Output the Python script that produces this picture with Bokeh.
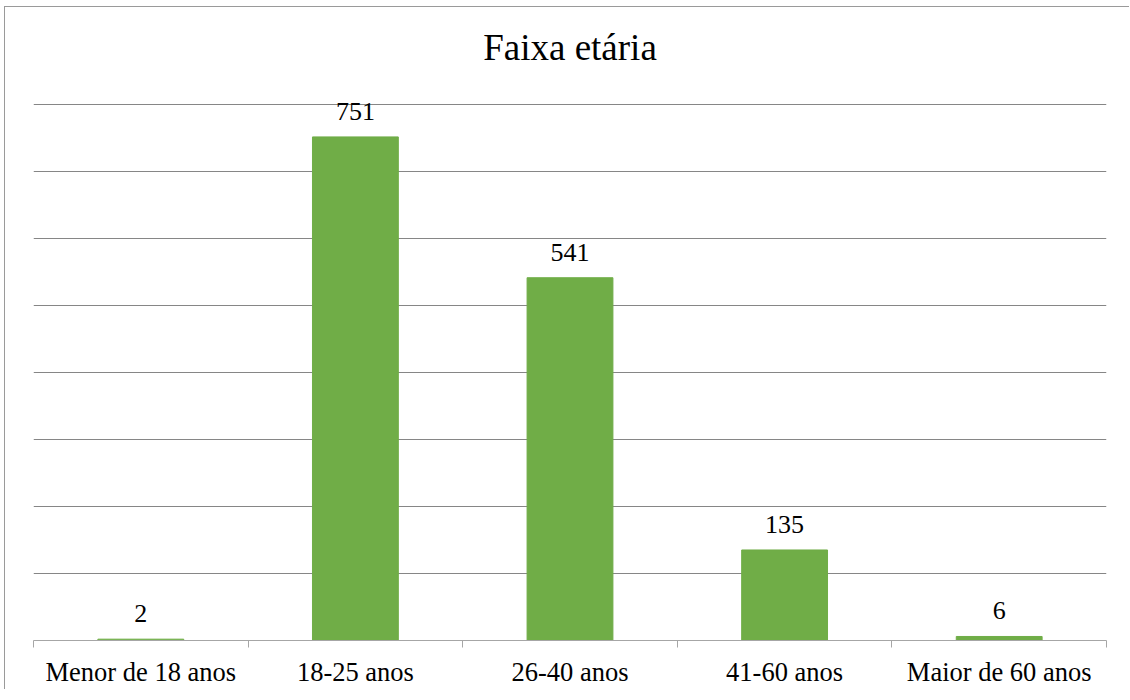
from bokeh.plotting import figure
from bokeh.layouts import column
from bokeh.models import ColumnDataSource, FixedTicker, Range1d, LabelSet, Label
from bokeh.embed import file_html
from bokeh.resources import INLINE

# ---- data ----
categories = ["Menor de 18 anos", "18-25 anos", "26-40 anos", "41-60 anos", "Maior de 60 anos"]
values = [2, 751, 541, 135, 6]
grid_values = [0, 100, 200, 300, 400, 500, 600, 700, 800]
title_text = "Faixa etária"

FONT = "'Liberation Serif', 'Times New Roman', serif"
idx = list(range(len(categories)))

src = ColumnDataSource(dict(
    x=idx,
    top=values,
    label=[str(v) for v in values],
    cat=categories,
))

p = figure(
    width=1124, height=682, title=None,
    x_range=Range1d(-0.5, len(categories) - 0.5),
    # extra headroom above the top gridline holds the chart title
    y_range=Range1d(0, grid_values[-1] * 1.18),
    output_backend="svg", toolbar_location=None, tools="",
    min_border_left=28, min_border_right=23, min_border_top=0, min_border_bottom=40,
)

p.outline_line_color = None
p.background_fill_color = "white"
p.border_fill_color = "white"

p.vbar(x="x", top="top", width=0.4, source=src, color="#70AD47")

labels = LabelSet(x="x", y="top", text="label", source=src,
                  text_align="center", text_baseline="alphabetic", y_offset=17,
                  text_font=FONT, text_font_size="26px", text_color="#000000")
p.add_layout(labels)

title = Label(x=(len(categories) - 1) / 2, y=grid_values[-1] * 1.105, text=title_text,
              text_align="center", text_baseline="middle",
              text_font=FONT, text_font_size="37px", text_color="#000000")
p.add_layout(title)

p.yaxis.visible = False
p.xgrid.visible = False
p.ygrid.ticker = FixedTicker(ticks=grid_values)
p.ygrid.grid_line_color = "#868686"
p.ygrid.grid_line_width = 1

xa = p.xaxis[0]
xa.ticker = FixedTicker(ticks=idx, minor_ticks=[i - 0.5 for i in idx] + [len(idx) - 0.5])
xa.major_label_overrides = {i: c for i, c in zip(idx, categories)}
xa.major_tick_line_color = None
xa.major_tick_out = 0
xa.major_tick_in = 0
xa.minor_tick_line_color = "#a6a6a6"
xa.minor_tick_out = 7
xa.minor_tick_in = 0
xa.axis_line_color = "#a6a6a6"
xa.major_label_text_font = FONT
xa.major_label_text_font_size = "26.5px"
xa.major_label_text_color = "#000000"
xa.major_label_standoff = 9

layout = column(p, margin=(6, 0, 0, 4),
                styles={"border-top": "1px solid #9a9a9a", "border-left": "1px solid #9a9a9a"})

open("out.html", "w").write(file_html(layout, INLINE))
